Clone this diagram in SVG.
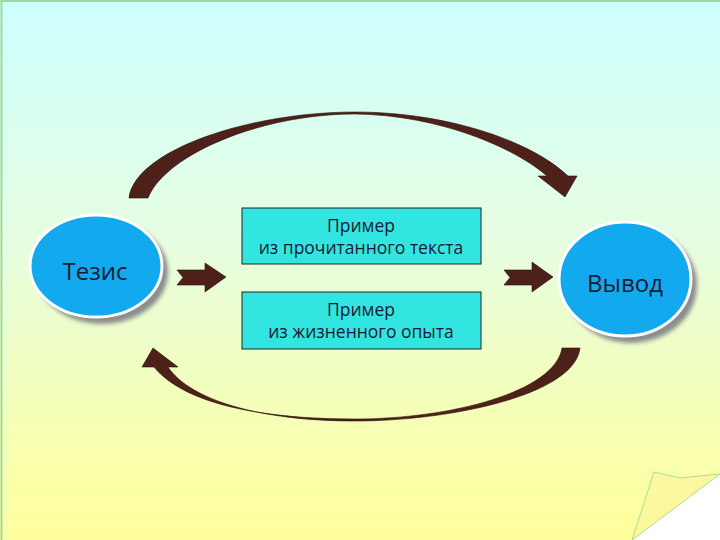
<svg xmlns="http://www.w3.org/2000/svg" width="720" height="540" viewBox="0 0 720 540">
<defs>
<linearGradient id="bg" x1="0" y1="0" x2="0" y2="1">
<stop offset="0" stop-color="#ccffff"/>
<stop offset="0.45" stop-color="#e6fde0"/>
<stop offset="1" stop-color="#ffff99"/>
</linearGradient>
<filter id="sh" x="-20%" y="-20%" width="150%" height="150%">
<feGaussianBlur stdDeviation="2"/>
</filter>
<style>
.arr{fill:#4d2119;stroke:#2a100c;stroke-width:0.6}
.node{fill:#13a9ef;stroke:#ffffff;stroke-width:3}
.shadow{fill:#8c8c8c;filter:url(#sh)}
.box{fill:#33e5e0;stroke:#222;stroke-width:1}
.t{font-family:"Open Sans","Liberation Sans",sans-serif;fill:#1a1a33;text-anchor:middle}
</style>
</defs>
<rect x="0" y="0" width="720" height="540" fill="url(#bg)"/>
<line x1="1.5" y1="0" x2="1.5" y2="540" stroke="#9ed99e" stroke-width="2"/>
<line x1="0" y1="1" x2="720" y2="1" stroke="#9ed99e" stroke-width="2"/>
<line x1="7" y1="3" x2="7" y2="540" stroke="#d8f8f0" stroke-width="1"/>
<polygon points="630,540 720,473 720,540" fill="#ffffff"/>
<polygon points="632,540 654,472 680,478 720,474" fill="#fcf8a0" stroke="#a8e08e" stroke-width="1"/>
<g id="connectors">
<path class="arr" d="M129,198 C135,150 250,112 355,112 C445,112 530,140 568,176 L577,176 L565,197 L538,176 L547,176 C515,148 440,115 355,114 C260,114 165,155 148,198 Z"/>
<path class="arr" d="M562,348 L580,348 C575,395 450,421 355,421 C260,421 190,400 168,367 L178,367 L153,348 L142,367 L154,367 C185,405 265,419 355,419 C450,419 555,392 562,348 Z"/>
<path class="arr" d="M177,270 L205,270 L205,263 L226,277 L205,292 L205,285 L177,285 L183,277.5 Z"/>
<path class="arr" d="M504,270 L532,270 L532,262 L553,277 L532,292 L532,285 L504,285 L510,277.5 Z"/>
</g>
<g id="tezis">
<ellipse class="shadow" cx="102" cy="272" rx="66" ry="52"/>
<ellipse class="node" cx="96" cy="266" rx="66" ry="51"/>
<text class="t" x="95" y="280" font-size="24">Тезис</text>
</g>
<g id="vyvod">
<ellipse class="shadow" cx="631" cy="285" rx="66" ry="58"/>
<ellipse class="node" cx="625" cy="279" rx="66" ry="57"/>
<text class="t" x="625" y="292" font-size="24">Вывод</text>
</g>
<g id="box1">
<rect class="box" x="242" y="208" width="239" height="56"/>
<text class="t" x="361" y="232" font-size="17.5">Пример</text>
<text class="t" x="361" y="254" font-size="17.5">из прочитанного текста</text>
</g>
<g id="box2">
<rect class="box" x="242" y="292" width="239" height="57"/>
<text class="t" x="361" y="316" font-size="17.5">Пример</text>
<text class="t" x="361" y="338" font-size="17.5">из жизненного опыта</text>
</g>
</svg>
